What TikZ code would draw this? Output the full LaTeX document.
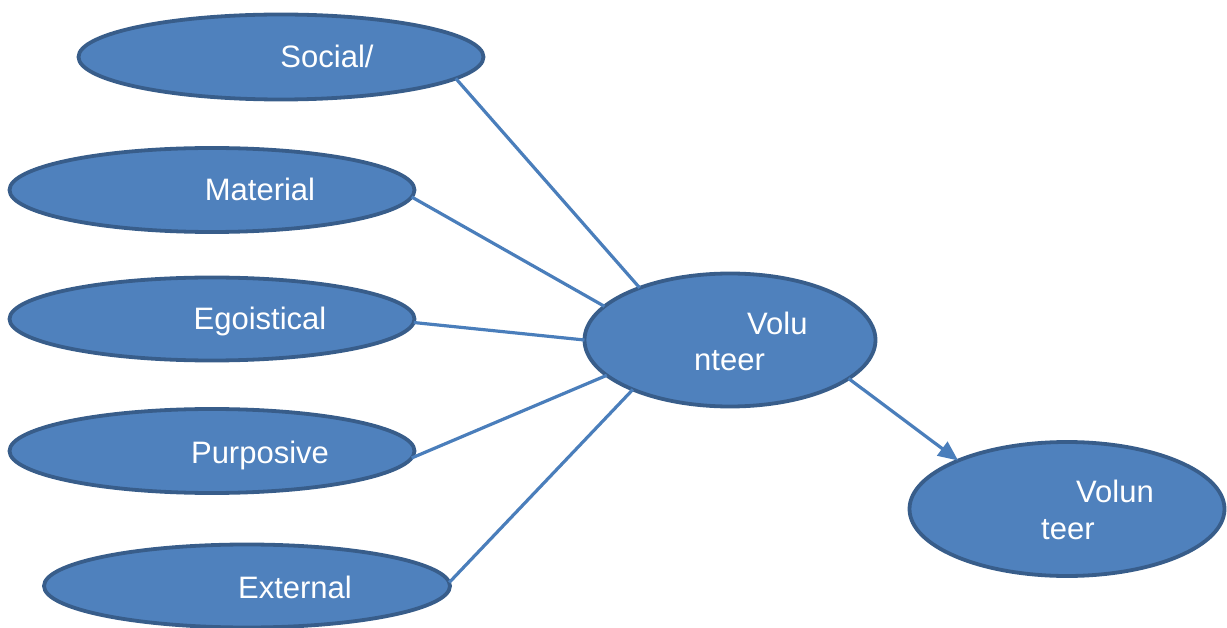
\documentclass[tikz,border=0pt]{standalone}
\usepackage{fontspec}
\setmainfont{Liberation Sans}
\usetikzlibrary{shapes.geometric,arrows.meta}
\definecolor{fillblue}{HTML}{4F81BD}
\definecolor{edgeblue}{HTML}{385D8A}
\definecolor{lineblue}{HTML}{4A7EBB}
\begin{document}
\begin{tikzpicture}[x=1pt,y=-1pt,
  oval/.style={ellipse,draw=edgeblue,fill=fillblue,line width=3.8pt,inner sep=0pt,outer sep=0pt},
  lbl/.style={text=white,font=\fontsize{31}{36}\selectfont,inner sep=0pt},
  conn/.style={draw=lineblue,line width=3.2pt}]
\useasboundingbox (0,0) rectangle (1227,628);
% ellipses
\node[oval,minimum width=405,minimum height=85] (soc) at (281,57) {};
\node[oval,minimum width=405,minimum height=84] (mat) at (212,190) {};
\node[oval,minimum width=405,minimum height=83] (ego) at (212,319) {};
\node[oval,minimum width=405,minimum height=84] (pur) at (212,451) {};
\node[oval,minimum width=406,minimum height=83] (ext) at (247,586) {};
\node[oval,minimum width=291,minimum height=133] (vol) at (730,340) {};
\node[oval,minimum width=315,minimum height=134] (vol2) at (1067,509) {};
% texts
\node[lbl,anchor=base] (tsoc) at (327,68) {Social/};
\node[lbl,anchor=base] (tmat) at (260,201) {Material};
\node[lbl,anchor=base] (tego) at (260,330) {Egoistical};
\node[lbl,anchor=base] (tpur) at (260,463) {Purposive};
\node[lbl,anchor=base] (text) at (295,598) {External};
\node[lbl,anchor=base west] (tv1) at (747,335) {Volu};
\node[lbl,anchor=base west] (tv2) at (694,371) {nteer};
\node[lbl,anchor=base west] (tw1) at (1076,502) {Volun};
\node[lbl,anchor=base west] (tw2) at (1041,539) {teer};
% connectors
\draw[conn] (soc.-7.6) -- (vol.150.8);
\draw[conn] (mat.-2.5) -- (vol.165.3);
\draw[conn] (ego.-1) -- (vol.180);
\draw[conn] (pur.-2) -- (vol.196.6);
\draw[conn] (ext.1.4) -- (vol.207.2);
\draw[conn,-{Triangle[length=20pt,width=17pt]}] (vol.-18.2) -- (vol2.156.8);
\end{tikzpicture}
\end{document}
